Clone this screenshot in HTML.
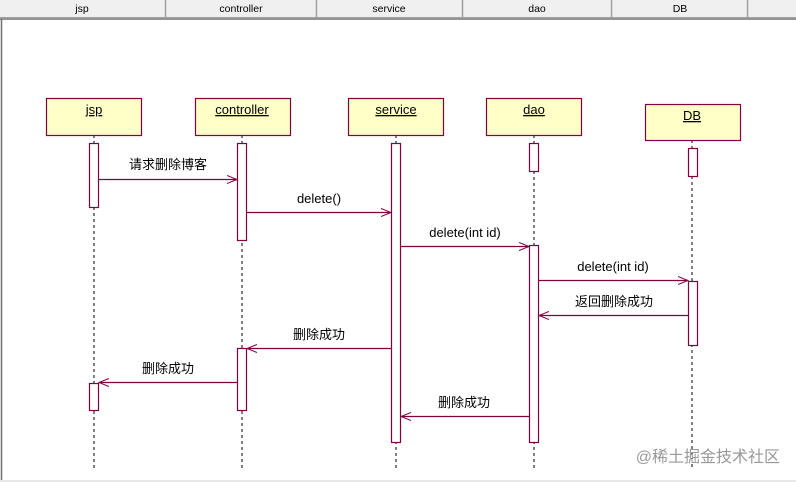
<!DOCTYPE html>
<html><head><meta charset="utf-8"><style>
html,body{margin:0;padding:0;background:#fff;width:796px;height:482px;overflow:hidden}
svg text{font-family:"Liberation Sans","Noto Sans CJK SC",sans-serif}
</style></head><body>
<svg width="796" height="482" xmlns="http://www.w3.org/2000/svg">
<defs>
<marker id="a" markerWidth="12" markerHeight="10" refX="10" refY="5" orient="auto" markerUnits="userSpaceOnUse">
<path d="M0,1 L10,5 L0,9" fill="none" stroke="#800040" stroke-width="1"/></marker>
</defs>
<rect x="0" y="0" width="796" height="18" fill="#f0f0f0"/>
<line x1="0" y1="17.5" x2="796" y2="17.5" stroke="#a0a0a0"/>
<line x1="0" y1="19" x2="796" y2="19" stroke="#707070" stroke-width="1.5"/>
<line x1="1.5" y1="19" x2="1.5" y2="482" stroke="#707070" stroke-width="1.5"/>
<line x1="0" y1="481" x2="796" y2="481" stroke="#e8e8e8" stroke-width="2"/>
<g stroke="#a0a0a0" stroke-width="1.5">
<line x1="165.5" y1="0" x2="165.5" y2="18"/><line x1="316.5" y1="0" x2="316.5" y2="18"/>
<line x1="462.5" y1="0" x2="462.5" y2="18"/><line x1="611.5" y1="0" x2="611.5" y2="18"/>
<line x1="747.5" y1="0" x2="747.5" y2="18"/></g>
<g font-size="10.5" fill="#000" text-anchor="middle">
<text x="82" y="12">jsp</text><text x="241" y="12">controller</text><text x="389" y="12">service</text>
<text x="537" y="12">dao</text><text x="680" y="12">DB</text></g>
<g stroke="#000" stroke-dasharray="3,3">
<line x1="94" y1="135" x2="94" y2="470"/><line x1="242" y1="135" x2="242" y2="470"/>
<line x1="396" y1="135" x2="396" y2="470"/><line x1="534" y1="135" x2="534" y2="470"/>
<line x1="692" y1="140" x2="692" y2="470"/></g>
<g fill="#ffffc8" stroke="#800040" stroke-width="1.2">
<rect x="46.5" y="98.5" width="95" height="37"/><rect x="195.5" y="98.5" width="95" height="37"/>
<rect x="348.5" y="98.5" width="95" height="37"/><rect x="486.5" y="98.5" width="95" height="37"/>
<rect x="645.5" y="104.5" width="95" height="36"/></g>
<g font-size="13" fill="#000" text-anchor="middle" text-decoration="underline">
<text x="94" y="114">jsp</text><text x="242" y="114">controller</text><text x="396" y="114">service</text>
<text x="534" y="114">dao</text><text x="692" y="120">DB</text></g>
<g fill="#fff" stroke="#800040" stroke-width="1.2">
<rect x="89.5" y="143.5" width="9" height="64"/><rect x="89.5" y="383.5" width="9" height="27"/>
<rect x="237.5" y="143.5" width="9" height="97"/><rect x="237.5" y="348.5" width="9" height="62"/>
<rect x="391.5" y="143.5" width="9" height="299"/>
<rect x="529.5" y="143.5" width="9" height="28"/><rect x="529.5" y="245.5" width="9" height="197"/>
<rect x="688.5" y="148.5" width="9" height="28"/><rect x="688.5" y="281.5" width="9" height="64"/></g>
<g stroke="#800040" stroke-width="1.2" marker-end="url(#a)">
<line x1="98" y1="179.5" x2="237" y2="179.5"/><line x1="246" y1="212.5" x2="391" y2="212.5"/>
<line x1="400" y1="246.5" x2="529" y2="246.5"/><line x1="538" y1="280.5" x2="688" y2="280.5"/>
<line x1="688" y1="315.5" x2="539" y2="315.5"/><line x1="391" y1="348.5" x2="247" y2="348.5"/>
<line x1="238" y1="382.5" x2="99" y2="382.5"/><line x1="529" y1="416.5" x2="401" y2="416.5"/></g>
<g font-size="13" fill="#000" text-anchor="middle">
<text x="168" y="169">请求删除博客</text><text x="319" y="203">delete()</text>
<text x="465" y="237">delete(int id)</text><text x="613" y="271">delete(int id)</text>
<text x="614" y="306">返回删除成功</text><text x="319" y="339">删除成功</text>
<text x="168" y="373">删除成功</text><text x="464" y="407">删除成功</text></g>
<text x="780" y="462" font-size="16" fill="#999" text-anchor="end">@稀土掘金技术社区</text>
</svg>
</body></html>
